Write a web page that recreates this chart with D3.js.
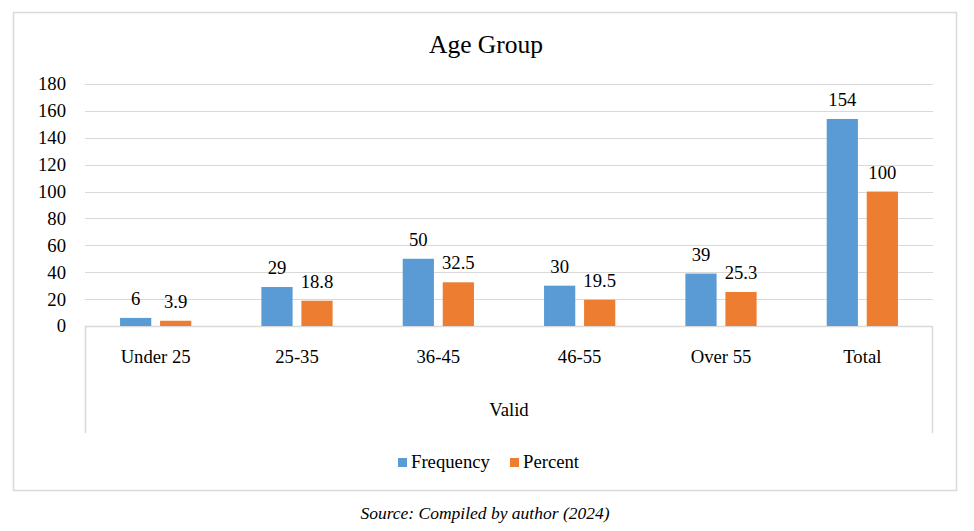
<!DOCTYPE html>
<html>
<head>
<meta charset="utf-8">
<script src="https://cdn.jsdelivr.net/npm/d3@7"></script>
<style>
  body { margin: 0; background: #fff; }
  text { font-family: "Liberation Serif", "Times New Roman", serif; fill: #000; }
</style>
</head>
<body>
<div id="chart"></div>
<script>
var svgWidth = 974;
var svgHeight = 531;

// data
var categories = ["Under 25", "25-35", "36-45", "46-55", "Over 55", "Total"];
var frequency = [6, 29, 50, 30, 39, 154];
var percent = [3.9, 18.8, 32.5, 19.5, 25.3, 100];
var seriesNames = ["Frequency", "Percent"];
var yTicks = [0, 20, 40, 60, 80, 100, 120, 140, 160, 180];
var colors = ["#5b9bd5", "#ed7d31"];

var plot = { left: 85, right: 933, top: 84, bottom: 326 };
var fontSize = "18.7px";

var svg = d3.select("#chart")
  .append("svg")
  .attr("width", svgWidth)
  .attr("height", svgHeight);

// outer chart border
svg.append("rect")
  .attr("x", 13.5)
  .attr("y", 12.5)
  .attr("width", 943)
  .attr("height", 478)
  .attr("fill", "none")
  .attr("stroke", "#d9d9d9")
  .attr("stroke-width", 1.5);

// title
svg.append("text")
  .attr("x", 486)
  .attr("y", 53)
  .attr("text-anchor", "middle")
  .style("font-size", "25.5px")
  .text("Age Group");

var yScale = d3.scaleLinear()
  .domain([0, 180])
  .range([plot.bottom, plot.top]);

var x0 = d3.scaleBand()
  .domain(categories)
  .range([plot.left, plot.right])
  .padding(0);

var bw = x0.bandwidth();
var x1 = d3.scaleBand()
  .domain(seriesNames)
  .range([bw * 0.248, bw * 0.752])
  .paddingInner(0.22)
  .paddingOuter(0);

// gridlines
svg.append("g")
  .selectAll("line")
  .data(yTicks.filter(d => d > 0))
  .enter()
  .append("line")
  .attr("x1", plot.left)
  .attr("x2", plot.right)
  .attr("y1", d => Math.round(yScale(d)) + 0.5)
  .attr("y2", d => Math.round(yScale(d)) + 0.5)
  .attr("stroke", "#d9d9d9")
  .attr("stroke-width", 1);

// y axis labels
var leftAxis = d3.axisLeft(yScale)
  .tickValues(yTicks)
  .tickSize(0)
  .tickPadding(0);

var yAxis = svg.append("g")
  .attr("transform", "translate(66, 0)")
  .call(leftAxis);
yAxis.select(".domain").remove();
yAxis.selectAll("text")
  .attr("dy", "0.32em")
  .style("font-size", fontSize)
  .style("font-family", "'Liberation Serif', serif");

// category axis box (baseline + outer verticals)
var boxBottom = 433;
svg.append("path")
  .attr("d", `M${plot.left + 0.5},${boxBottom} V${Math.round(plot.bottom) + 0.5} H${plot.right - 0.5} V${boxBottom}`)
  .attr("fill", "none")
  .attr("stroke", "#d9d9d9")
  .attr("stroke-width", 1.5);

// bars
var rows = categories.map((c, i) => ({ cat: c, values: [frequency[i], percent[i]] }));

var groups = svg.append("g")
  .selectAll("g")
  .data(rows)
  .enter()
  .append("g")
  .attr("transform", d => `translate(${x0(d.cat)}, 0)`);

groups.selectAll("rect")
  .data(d => d.values.map((v, j) => ({ name: seriesNames[j], value: v, j: j })))
  .enter()
  .append("rect")
  .attr("x", d => x1(d.name))
  .attr("y", d => yScale(d.value))
  .attr("width", x1.bandwidth())
  .attr("height", d => yScale(0) - yScale(d.value))
  .attr("fill", d => colors[d.j]);

// value labels
groups.selectAll("text")
  .data(d => d.values.map((v, j) => ({ name: seriesNames[j], value: v })))
  .enter()
  .append("text")
  .attr("x", d => x1(d.name) + x1.bandwidth() / 2)
  .attr("y", d => yScale(d.value) - 13)
  .attr("text-anchor", "middle")
  .style("font-size", fontSize)
  .text(d => d.value);

// category labels
svg.append("g")
  .selectAll("text")
  .data(categories)
  .enter()
  .append("text")
  .attr("x", d => x0(d) + bw / 2)
  .attr("y", 363)
  .attr("text-anchor", "middle")
  .style("font-size", fontSize)
  .text(d => d);

// group label
svg.append("text")
  .attr("x", (plot.left + plot.right) / 2)
  .attr("y", 416)
  .attr("text-anchor", "middle")
  .style("font-size", fontSize)
  .text("Valid");

// legend
var legendItems = [
  { name: seriesNames[0], x: 398 },
  { name: seriesNames[1], x: 510 }
];
var legend = svg.append("g");
legendItems.forEach(function(item, i) {
  legend.append("rect")
    .attr("x", item.x)
    .attr("y", 458)
    .attr("width", 9)
    .attr("height", 9)
    .attr("fill", colors[i]);
  legend.append("text")
    .attr("x", item.x + 13)
    .attr("y", 468)
    .style("font-size", fontSize)
    .text(item.name);
});

// source note
svg.append("text")
  .attr("x", 485)
  .attr("y", 519)
  .attr("text-anchor", "middle")
  .style("font-size", "17.5px")
  .style("font-style", "italic")
  .text("Source: Compiled by author (2024)");
</script>
</body>
</html>
